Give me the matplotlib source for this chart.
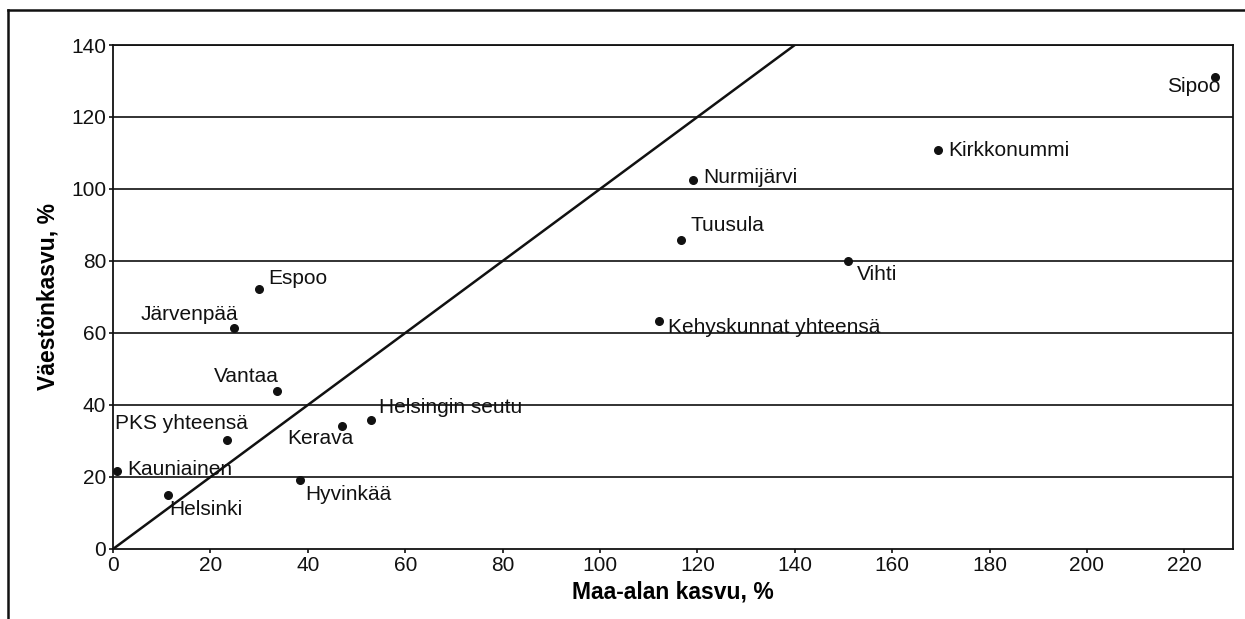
import matplotlib
matplotlib.use("Agg")
import matplotlib.pyplot as plt
from matplotlib.lines import Line2D

plt.rcParams['font.family'] = ['Liberation Sans', 'DejaVu Sans']

names = ["Sipoo", "Kirkkonummi", "Nurmijärvi", "Tuusula", "Vihti",
         "Kehyskunnat yhteensä", "Espoo", "Järvenpää", "Vantaa",
         "Helsingin seutu", "Kerava", "PKS yhteensä", "Kauniainen",
         "Helsinki", "Hyvinkää"]
maa_ala = [226.2, 169.5, 119.1, 116.7, 151.0, 112.2, 30.0, 24.9, 33.7,
           53.0, 47.0, 23.4, 0.8, 11.3, 38.4]
vaesto = [131.1, 110.8, 102.5, 85.8, 80.0, 63.3, 72.2, 61.4, 43.9,
          35.8, 34.2, 30.3, 21.7, 15.0, 19.2]
x_ticks = list(range(0, 221, 20))
y_ticks = list(range(0, 141, 20))
ref_line = [0, 140]

# label offsets in pixels (dx, dy, ha)
offsets = {
    "Sipoo": (6, -9, "right"),
    "Kirkkonummi": (10, 0, "left"),
    "Nurmijärvi": (10, 2, "left"),
    "Tuusula": (9, 15, "left"),
    "Vihti": (9, -14, "left"),
    "Kehyskunnat yhteensä": (9, -6, "left"),
    "Espoo": (9, 11, "left"),
    "Järvenpää": (4, 13, "right"),
    "Vantaa": (2, 14, "right"),
    "Helsingin seutu": (8, 13, "left"),
    "Kerava": (-22, -13, "center"),
    "PKS yhteensä": (21, 16, "right"),
    "Kauniainen": (10, 1, "left"),
    "Helsinki": (1, -15, "left"),
    "Hyvinkää": (5, -15, "left"),
}

fig = plt.figure(figsize=(12.45, 6.19), dpi=100)
ax = fig.add_axes([0.0908, 0.1131, 0.8996, 0.8142])

for y in y_ticks[1:]:
    ax.axhline(y, color="#222222", lw=1.3, zorder=1)

ax.plot(ref_line, ref_line, color="#111111", lw=1.8, zorder=2)
ax.scatter(maa_ala, vaesto, s=30, color="#111111", zorder=3)

for n, x, y in zip(names, maa_ala, vaesto):
    dx, dy, ha = offsets[n]
    ax.annotate(n, (x, y), xytext=(dx, dy), textcoords="offset pixels",
                ha=ha, va="center", fontsize=15, color="#111111", zorder=4)

ax.set_xlim(0, 230)
ax.set_ylim(0, 140)
ax.set_xticks(x_ticks)
ax.set_yticks(y_ticks)
ax.tick_params(axis="both", direction="out", length=3, width=1.2,
               labelsize=15, colors="#111111", pad=2)
for s in ax.spines.values():
    s.set_color("#111111")
    s.set_linewidth(1.3)

ax.set_xlabel("Maa-alan kasvu, %", fontsize=16.5, fontweight="bold", labelpad=4)
ax.set_ylabel("Väestönkasvu, %", fontsize=16.5, fontweight="bold", labelpad=8)

# partial outer frame
W, H = 1245, 619
fig.add_artist(Line2D([8 / W, 8 / W], [0, 1 - 10 / H], transform=fig.transFigure,
                      color="#111111", lw=1.8))
fig.add_artist(Line2D([8 / W, 1], [1 - 10 / H, 1 - 10 / H], transform=fig.transFigure,
                      color="#111111", lw=1.8))

fig.savefig("out.png", dpi=100)
